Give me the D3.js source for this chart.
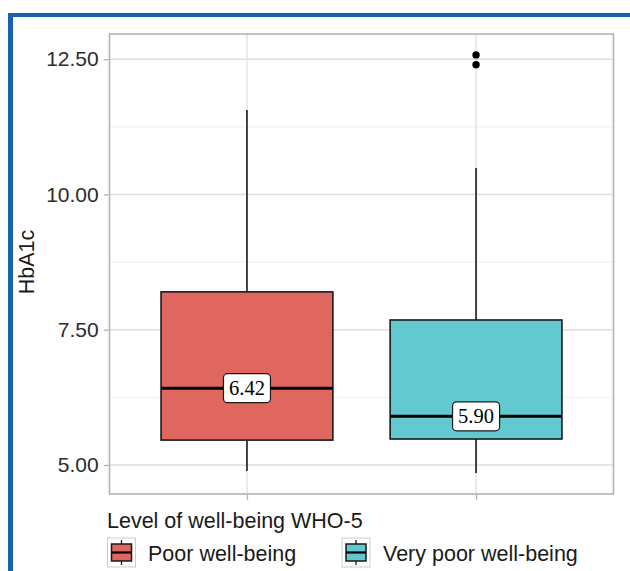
<!DOCTYPE html>
<html>
<head>
<meta charset="utf-8">
<script src="https://cdn.jsdelivr.net/npm/d3@7"></script>
<style>
  html, body { margin: 0; padding: 0; background: #ffffff; }
  svg { display: block; }
</style>
</head>
<body>
<svg id="chart" width="630" height="571"></svg>
<script>
// HbA1c by WHO-5 well-being level: five-number summaries plus outliers
const groups = ["Poor well-being", "Very poor well-being"];
const lowerWhisker = [4.89, 4.85];
const q1 = [5.46, 5.48];
const median = [6.42, 5.90];
const q3 = [8.20, 7.68];
const upperWhisker = [11.56, 10.49];
const outliers = [[], [12.58, 12.40]];
const yTicks = [5.0, 7.5, 10.0, 12.5];
const yMinorTicks = [6.25, 8.75, 11.25];
const fills = ["#E0675F", "#62C9D1"];

const svg = d3.select("#chart");
const panel = { left: 109.5, right: 613.5, top: 34, bottom: 494 };
const sans = "'Liberation Sans', Arial, Helvetica, sans-serif";
const serif = "'Liberation Serif', 'Times New Roman', serif";

// Blue frame along the top and left edges
svg.append("rect").attr("x", 8).attr("y", 13).attr("width", 622).attr("height", 4).attr("fill", "#1761B0");
svg.append("rect").attr("x", 8).attr("y", 13).attr("width", 5).attr("height", 558).attr("fill", "#1761B0");

// Scales: y domain padded by 5% of the data range on each side
const allVals = lowerWhisker.concat(upperWhisker, outliers.flat());
const dMin = d3.min(allVals), dMax = d3.max(allVals);
const pad = (dMax - dMin) * 0.05;
const y = d3.scaleLinear().domain([dMin - pad, dMax + pad]).range([panel.bottom, panel.top]);
const x = d3.scaleLinear().domain([0.4, groups.length + 0.6]).range([panel.left, panel.right]);
const boxHalf = 0.375;

// Grid
const grid = svg.append("g");
grid.selectAll("line.minor").data(yMinorTicks).join("line")
  .attr("x1", panel.left).attr("x2", panel.right)
  .attr("y1", d => y(d)).attr("y2", d => y(d))
  .attr("stroke", "#EBEBEB").attr("stroke-width", 0.8);
grid.selectAll("line.major").data(yTicks).join("line")
  .attr("x1", panel.left).attr("x2", panel.right)
  .attr("y1", d => y(d)).attr("y2", d => y(d))
  .attr("stroke", "#DEDEDE").attr("stroke-width", 1.3);
grid.selectAll("line.vmajor").data(groups).join("line")
  .attr("x1", (d, i) => x(i + 1)).attr("x2", (d, i) => x(i + 1))
  .attr("y1", panel.top).attr("y2", panel.bottom)
  .attr("stroke", "#DEDEDE").attr("stroke-width", 1.3);

// Boxplots
const boxes = svg.append("g");
groups.forEach((g, i) => {
  const cx = x(i + 1);
  const x0 = x(i + 1 - boxHalf), x1 = x(i + 1 + boxHalf);
  const grp = boxes.append("g");
  grp.append("line").attr("x1", cx).attr("x2", cx)
    .attr("y1", y(q3[i])).attr("y2", y(upperWhisker[i]))
    .attr("stroke", "#1a1a1a").attr("stroke-width", 1.6);
  grp.append("line").attr("x1", cx).attr("x2", cx)
    .attr("y1", y(q1[i])).attr("y2", y(lowerWhisker[i]))
    .attr("stroke", "#1a1a1a").attr("stroke-width", 1.6);
  grp.append("rect").attr("x", x0).attr("y", y(q3[i]))
    .attr("width", x1 - x0).attr("height", y(q1[i]) - y(q3[i]))
    .attr("fill", fills[i]).attr("stroke", "#1a1a1a").attr("stroke-width", 1.6);
  grp.append("line").attr("x1", x0).attr("x2", x1)
    .attr("y1", y(median[i])).attr("y2", y(median[i]))
    .attr("stroke", "#000").attr("stroke-width", 3);
  grp.selectAll("circle").data(outliers[i]).join("circle")
    .attr("cx", cx).attr("cy", d => y(d)).attr("r", 3.7).attr("fill", "#000");

  // Median label
  const lbl = grp.append("g").attr("transform", `translate(${cx},${y(median[i])})`);
  lbl.append("rect").attr("x", -23.5).attr("y", -14.5).attr("width", 47).attr("height", 29)
    .attr("rx", 4).attr("ry", 4)
    .attr("fill", "#fff").attr("stroke", "#1a1a1a").attr("stroke-width", 1.2);
  lbl.append("text").attr("x", 0).attr("y", 7)
    .attr("text-anchor", "middle").attr("font-family", serif).attr("font-size", 20.5)
    .attr("fill", "#000").text(median[i].toFixed(2));
});

// Panel border
svg.append("rect").attr("x", panel.left).attr("y", panel.top)
  .attr("width", panel.right - panel.left).attr("height", panel.bottom - panel.top)
  .attr("fill", "none").attr("stroke", "#B3B3B3").attr("stroke-width", 1.6);

// Y axis
const yAxis = svg.append("g").attr("transform", `translate(${panel.left - 0.8},0)`)
  .call(d3.axisLeft(y).tickValues(yTicks).tickFormat(d3.format(".2f")).tickSize(5).tickPadding(5));
yAxis.select(".domain").remove();
yAxis.selectAll(".tick line").attr("stroke", "#B3B3B3").attr("stroke-width", 1.3);
yAxis.selectAll(".tick text").attr("font-family", sans).attr("font-size", 21).attr("fill", "#2b2b2b");

// X axis ticks (no labels)
const xAxis = svg.append("g").attr("transform", `translate(0,${panel.bottom + 0.8})`)
  .call(d3.axisBottom(x).tickValues(groups.map((d, i) => i + 1)).tickFormat("").tickSize(5));
xAxis.select(".domain").remove();
xAxis.selectAll(".tick line").attr("stroke", "#B3B3B3").attr("stroke-width", 1.3);

// Y axis title
svg.append("text")
  .attr("transform", `translate(34,${(panel.top + panel.bottom) / 2 - 2}) rotate(-90)`)
  .attr("text-anchor", "middle").attr("font-family", sans).attr("font-size", 21.5)
  .attr("fill", "#1a1a1a").text("HbA1c");

// Legend
const legend = svg.append("g");
legend.append("text").attr("x", 107).attr("y", 528)
  .attr("font-family", sans).attr("font-size", 21.5).attr("fill", "#1a1a1a")
  .text("Level of well-being WHO-5");
const keyX = [107.5, 342];
const textX = [148, 383];
groups.forEach((g, i) => {
  const k = legend.append("g").attr("transform", `translate(${keyX[i]},538)`);
  k.append("rect").attr("x", 0).attr("y", 0).attr("width", 28).attr("height", 29)
    .attr("fill", "#fff").attr("stroke", "#CCCCCC").attr("stroke-width", 1);
  k.append("line").attr("x1", 14).attr("x2", 14).attr("y1", 2).attr("y2", 27)
    .attr("stroke", "#1a1a1a").attr("stroke-width", 1.3);
  k.append("rect").attr("x", 4).attr("y", 6).attr("width", 20).attr("height", 17)
    .attr("fill", fills[i]).attr("stroke", "#1a1a1a").attr("stroke-width", 1.5);
  k.append("line").attr("x1", 4).attr("x2", 24).attr("y1", 14.5).attr("y2", 14.5)
    .attr("stroke", "#000").attr("stroke-width", 2.2);
  legend.append("text").attr("x", textX[i]).attr("y", 561)
    .attr("font-family", sans).attr("font-size", 21.5).attr("fill", "#1a1a1a").text(g);
});
</script>
</body>
</html>
